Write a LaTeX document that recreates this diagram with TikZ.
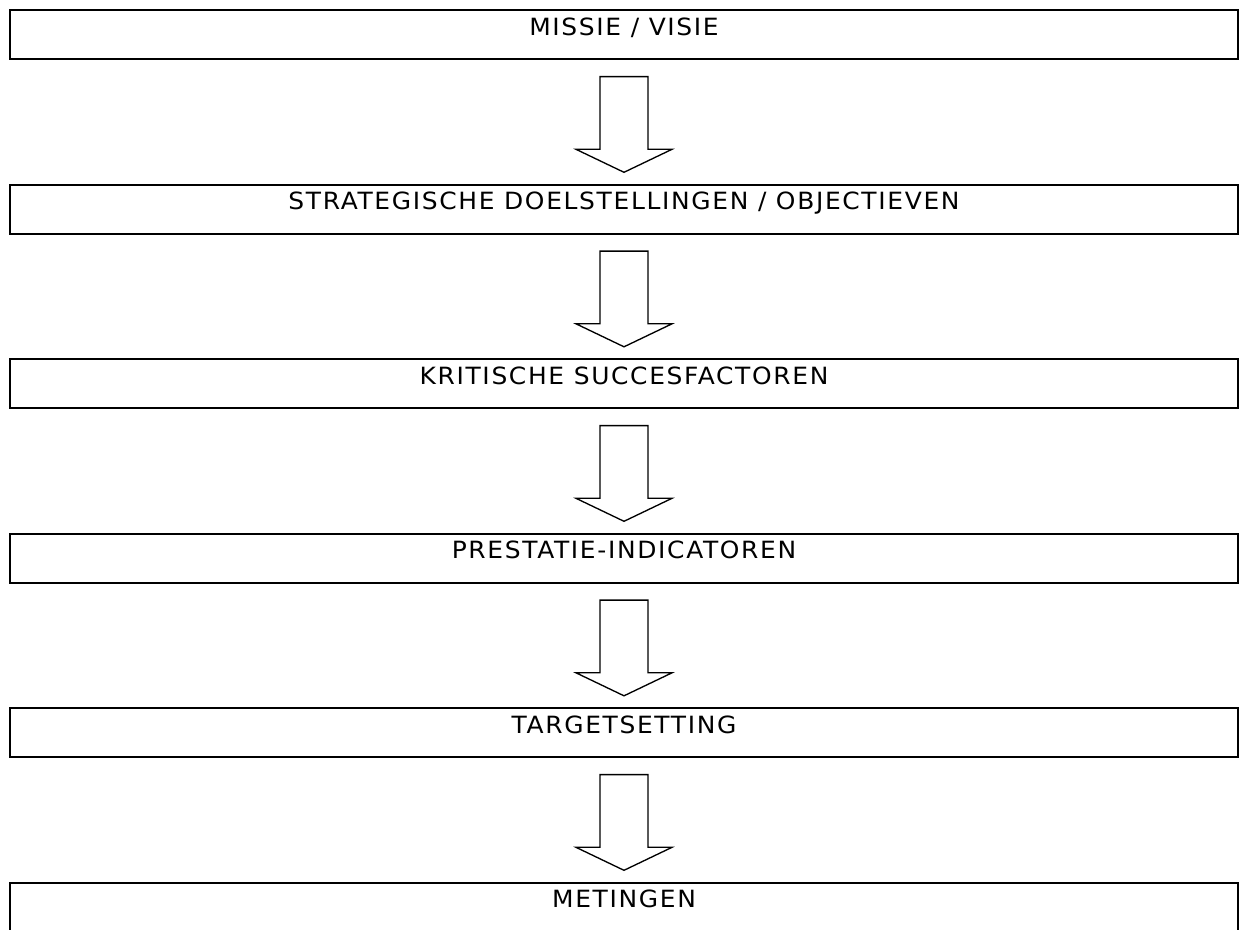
\documentclass[tikz,border=0pt]{standalone}
\usepackage{fontspec}
\setmainfont{DejaVu Sans}[FakeStretch=1.05, LetterSpace=7]
\usetikzlibrary{calc}
\begin{document}
\begin{tikzpicture}[x=0.75pt,y=-0.75pt,
  stage/.style={draw, line width=1.5pt, minimum width=920.6pt, minimum height=36.75pt,
    inner sep=0pt, outer sep=0pt},
  stagetext/.style={anchor=base, inner sep=0pt, font=\fontsize{17.8}{20}\selectfont},
  blockarrow/.style={draw, line width=1pt, line join=miter, fill=white}]
  \useasboundingbox (0,0) rectangle (1241,929);
  \clip (0,0) rectangle (1241,929);
  % the six stages, top to bottom
  \foreach \i/\txt in {1/{MISSIE / VISIE},
                       2/{STRATEGISCHE DOELSTELLINGEN / OBJECTIEVEN},
                       3/{KRITISCHE SUCCESFACTOREN},
                       4/{PRESTATIE-INDICATOREN},
                       5/{TARGETSETTING},
                       6/{METINGEN}} {
    \node[stage, anchor=north] (b\i) at (624, {10.3+174.5*(\i-1)}) {};
    \node[stagetext] (t\i) at ($(b\i.north)+(0,25)$) {\txt};
  }
  % hollow block arrows from each stage to the next
  \foreach \i [evaluate=\i as \j using int(\i+1)] in {1,...,5} {
    \draw[blockarrow]
      ($(b\i.south)+(-24,17.3)$) -- ($(b\i.south)+(24,17.3)$)
      -- ($(b\i.south)+(24,90)$) -- ($(b\i.south)+(48,90)$)
      -- ($(b\j.north)+(0,-12.5)$)
      -- ($(b\i.south)+(-48,90)$) -- ($(b\i.south)+(-24,90)$) -- cycle;
  }
\end{tikzpicture}
\end{document}
